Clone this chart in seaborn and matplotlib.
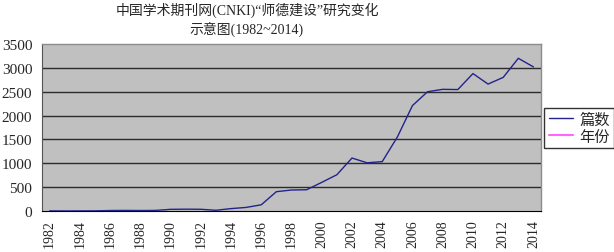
import matplotlib
matplotlib.use("Agg")
import matplotlib.pyplot as plt
from matplotlib.lines import Line2D
import seaborn as sns
import pandas as pd
import numpy as np

years = list(range(1982, 2015))
counts = [2, 1, 2, 3, 10, 12, 10, 12, 35, 38, 36, 15, 50, 75, 130, 405, 440, 445,
          600, 760, 1110, 1010, 1035, 1550, 2210, 2500, 2550, 2545, 2880, 2660,
          2800, 3200, 3020]
series_names = ["篇数", "年份"]
title_lines = ["中国学术期刊网(CNKI)“师德建设”研究变化", "示意图(1982~2014)"]
y_ticks = [0, 500, 1000, 1500, 2000, 2500, 3000, 3500]

sns.set_style("white")
plt.rcParams["font.family"] = ["Liberation Serif", "Noto Sans CJK SC", "DejaVu Sans"]

df = pd.DataFrame({"idx": np.arange(len(years)), "year": years, "count": counts})

fig = plt.figure(figsize=(6.14, 2.53), dpi=100)
ax = fig.add_axes([42/614, 1-212/253, (541-42)/614, (212-45)/253])
ax.set_facecolor("#C0C0C0")

for v in y_ticks[1:-1]:
    ax.axhline(v, color="#2b2b2b", lw=1.0, zorder=1)

sns.lineplot(data=df, x="idx", y="count", ax=ax, color="#23238C", lw=1.0,
             zorder=3, legend=False)

ax.set_xlim(-0.5, len(years) - 0.5)
ax.set_ylim(0, 3500)
ax.set_yticks(y_ticks)
ax.set_yticklabels([str(v) for v in y_ticks], fontsize=11)
ax.tick_params(axis="y", direction="out", length=3, width=0.8, color="#333333", pad=4)

ax.set_xticks(np.arange(-0.5, len(years), 1.0), minor=True)
ax.tick_params(axis="x", which="minor", direction="in", length=4, width=0.8, color="black")
label_idx = [i for i, y in enumerate(years) if (y - years[0]) % 2 == 0]
ax.set_xticks(label_idx)
ax.set_xticklabels([str(years[i]) for i in label_idx], rotation=90, fontsize=10)
ax.tick_params(axis="x", which="major", length=0, pad=6)
ax.set_xlabel("")
ax.set_ylabel("")

for side in ["top", "right"]:
    ax.spines[side].set_color("#8c8c8c")
    ax.spines[side].set_linewidth(1.0)
ax.spines["left"].set_color("#555555")
ax.spines["bottom"].set_color("black")
for side in ax.spines:
    ax.spines[side].set_visible(True)

fig.text(247/614, 1-10/253, title_lines[0], ha="center", va="center", fontsize=10)
fig.text(247/614, 1-29/253, title_lines[1], ha="center", va="center", fontsize=10)

handles = [Line2D([0], [0], color="#23238C", lw=1.0),
           Line2D([0], [0], color="#FF66FF", lw=1.5)]
leg = fig.legend(handles, series_names, loc="center left",
                 bbox_to_anchor=(544/614, 1-129/253), frameon=True, fancybox=False,
                 edgecolor="black", fontsize=11, handlelength=1.6, handletextpad=0.4,
                 borderpad=0.3, labelspacing=0.2, borderaxespad=0)
leg.get_frame().set_linewidth(1.0)

fig.savefig("out.png", dpi=100)
